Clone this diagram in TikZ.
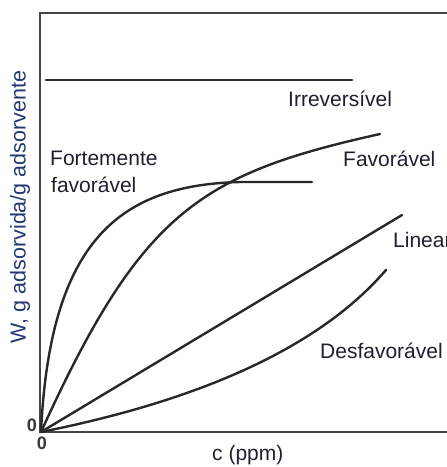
\documentclass[tikz,border=0pt]{standalone}
\usepackage{fontspec}
\setmainfont{Liberation Sans}
\definecolor{txt}{RGB}{30,32,48}
\definecolor{ylab}{RGB}{35,55,115}
\definecolor{crv}{RGB}{40,40,40}
\definecolor{axc}{RGB}{70,70,70}
\begin{document}
\begin{tikzpicture}[x=1pt,y=-1pt,
  lbl/.style={font=\fontsize{21}{23}\selectfont, text=txt, inner sep=0pt, anchor=base west},
  zero/.style={font=\fontsize{18}{19}\selectfont\bfseries, text=axc!80!black, inner sep=0pt},
  curve/.style={draw=crv, line width=2.4pt, line cap=round},
  axis/.style={draw=axc, line width=2.2pt}]
\useasboundingbox (0,0) rectangle (447,467);
% frame / axes
\coordinate (tl) at (40,13);
\coordinate (tr) at (447,13);
\coordinate (o) at (40,432);
\coordinate (br) at (447,432);
\draw[axis] (tr) -- (tl) -- (o) -- (br);
% irreversible
\coordinate (i1) at (46,80);
\coordinate (i2) at (352,80);
\draw[curve, line width=2.8pt] (i1) -- (i2);
% strongly favourable
\coordinate (s0) at (41,432);
\coordinate (s3) at (240,182);
\coordinate (s4) at (312,182);
\draw[curve] (s0) .. controls (50,240) and (120,185) .. (s3) -- (s4);
% favourable
\coordinate (f3) at (380,134);
\draw[curve] (s0) .. controls (141,212) and (200,174) .. (f3);
% linear
\coordinate (l2) at (402,215);
\draw[curve] (s0) -- (l2);
% unfavourable
\coordinate (u3) at (386,270);
\draw[curve] (s0) .. controls (161,408) and (306,363) .. (u3);
% labels
\node[lbl] (irr) at (288,106) {Irreversível};
\node[lbl] (fort) at (50,165) {Fortemente};
\node[lbl] (fortb) at (51,192) {favorável};
\node[lbl] (fav) at (343,166) {Favorável};
\node[lbl] (lin) at (393,247) {Linear};
\node[lbl] (des) at (320,358) {Desfavorável};
\node[lbl] (cx) at (212,460) {c (ppm)};
\node[zero] (z1) at (32,425) {0};
\node[zero] (z2) at (42,443) {0};
\node[font=\fontsize{21.5}{23}\selectfont, text=ylab, inner sep=0pt, rotate=90] (ylab) at (20,207) {W, g adsorvida/g adsorvente};
\end{tikzpicture}
\end{document}
